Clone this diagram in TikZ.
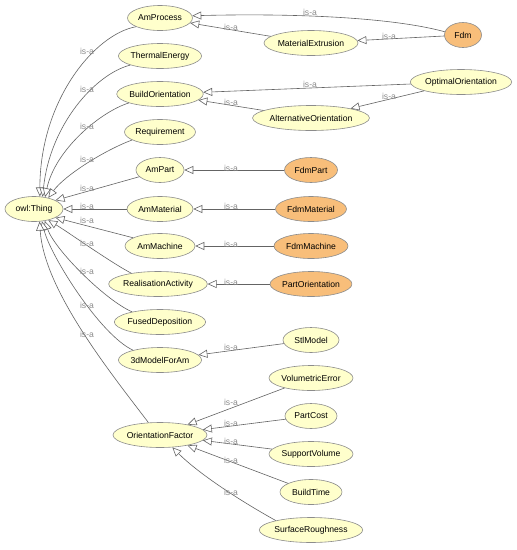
\documentclass[tikz,border=0pt]{standalone}
\usepackage{fontspec}
\setmainfont{Liberation Sans}
\usetikzlibrary{shapes.geometric,arrows.meta}
\definecolor{yfill}{RGB}{255,255,204}
\definecolor{ofill}{RGB}{248,190,122}
\definecolor{bord}{RGB}{140,140,140}
\definecolor{edgec}{RGB}{100,100,100}
\definecolor{lblc}{RGB}{140,140,140}
\begin{document}
\begin{tikzpicture}[x=1pt,y=-1pt,
  cls/.style={ellipse, draw=bord, line width=0.6pt, fill=yfill, inner sep=0pt, minimum height=25pt, font=\fontsize{8.6}{10}\selectfont},
  fdm/.style={cls, fill=ofill},
  isa/.style={draw=edgec, line width=0.6pt, -{Triangle[length=9pt,width=8pt,fill=white]}},
  lbl/.style={text=lblc, font=\fontsize{8.6}{10}\selectfont, inner sep=0pt}
]
\useasboundingbox (0,0) rectangle (517,550);
\fill[white] (0,0) rectangle (517,550);

% nodes
\node[cls, minimum width=58pt] (owl) at (34,209) {owl:Thing};
\node[cls, minimum width=65pt] (AmProcess) at (160,18) {AmProcess};
\node[cls, minimum width=83pt] (ThermalEnergy) at (160,56) {ThermalEnergy};
\node[cls, minimum width=86pt] (BuildOrientation) at (160,94) {BuildOrientation};
\node[cls, minimum width=71pt] (Requirement) at (160,132) {Requirement};
\node[cls, minimum width=48pt] (AmPart) at (160,170) {AmPart};
\node[cls, minimum width=66pt] (AmMaterial) at (160,209) {AmMaterial};
\node[cls, minimum width=70pt] (AmMachine) at (160,246) {AmMachine};
\node[cls, minimum width=93pt] (RealisationActivity) at (158,284) {RealisationActivity};
\node[cls, minimum width=86pt] (FusedDeposition) at (160,322) {FusedDeposition};
\node[cls, minimum width=82pt] (ModelForAm) at (160,360) {3dModelForAm};
\node[cls, minimum width=91pt] (OrientationFactor) at (160,435) {OrientationFactor};
\node[cls, minimum width=89pt] (MaterialExtrusion) at (311,43) {MaterialExtrusion};
\node[fdm, minimum width=37pt] (Fdm) at (463,35) {Fdm};
\node[cls, minimum width=95pt] (OptimalOrientation) at (461,82) {OptimalOrientation};
\node[cls, minimum width=112pt] (AlternativeOrientation) at (311,118) {AlternativeOrientation};
\node[fdm, minimum width=53pt] (FdmPart) at (311,170) {FdmPart};
\node[fdm, minimum width=71pt] (FdmMaterial) at (311,209) {FdmMaterial};
\node[fdm, minimum width=74pt] (FdmMachine) at (311,246) {FdmMachine};
\node[fdm, minimum width=80pt] (PartOrientation) at (311,284) {PartOrientation};
\node[cls, minimum width=56pt] (StlModel) at (311,340) {StlModel};
\node[cls, minimum width=84pt] (VolumetricError) at (311,378) {VolumetricError};
\node[cls, minimum width=52pt] (PartCost) at (311,416) {PartCost};
\node[cls, minimum width=84pt] (SupportVolume) at (311,454) {SupportVolume};
\node[cls, minimum width=62pt] (BuildTime) at (311,492) {BuildTime};
\node[cls, minimum width=95pt] (SurfaceRoughness) at (311,530) {SurfaceRoughness};

% edges to owl:Thing
\draw[isa] (AmProcess.200) .. controls (95,34) and (40,100) .. (owl.65);
\draw[isa] (ThermalEnergy.197) .. controls (95,74) and (50,125) .. (owl.55);
\draw[isa] (BuildOrientation.196) .. controls (100,112) and (55,150) .. (owl.47);
\draw[isa] (Requirement.196) .. controls (105,150) and (65,175) .. (owl.38);
\draw[isa] (AmPart.198) -- (owl.22);
\draw[isa] (AmMaterial) -- (owl);
\draw[isa] (AmMachine.163) -- (owl.-22);
\draw[isa] (RealisationActivity.158) .. controls (110,262) and (68,232) .. (owl.-38);
\draw[isa] (FusedDeposition.160) .. controls (105,300) and (55,250) .. (owl.-48);
\draw[isa] (ModelForAm.160) .. controls (100,335) and (50,255) .. (owl.-57);
\draw[isa] (OrientationFactor.133) .. controls (110,372) and (44,290) .. (owl.-66);

% other edges
\draw[isa] (Fdm.170) .. controls (395,18) and (300,13) .. (AmProcess.4);
\draw[isa] (MaterialExtrusion) -- (AmProcess);
\draw[isa] (Fdm) -- (MaterialExtrusion);
\draw[isa] (OptimalOrientation) -- (BuildOrientation);
\draw[isa] (OptimalOrientation) -- (AlternativeOrientation);
\draw[isa] (AlternativeOrientation) -- (BuildOrientation);
\draw[isa] (FdmPart) -- (AmPart);
\draw[isa] (FdmMaterial) -- (AmMaterial);
\draw[isa] (FdmMachine) -- (AmMachine);
\draw[isa] (PartOrientation) -- (RealisationActivity);
\draw[isa] (StlModel) -- (ModelForAm);
\draw[isa] (VolumetricError) -- (OrientationFactor);
\draw[isa] (PartCost) -- (OrientationFactor);
\draw[isa] (SupportVolume) -- (OrientationFactor);
\draw[isa] (BuildTime) -- (OrientationFactor);
\draw[isa] (SurfaceRoughness.165) .. controls (230,495) and (195,470) .. (OrientationFactor.-45);

% labels
\node[lbl] (l01) at (310,12) {is-a};
\node[lbl] (l02) at (231,27) {is-a};
\node[lbl] (l03) at (389,36) {is-a};
\node[lbl] (l04) at (310,84) {is-a};
\node[lbl] (l05) at (389,96) {is-a};
\node[lbl] (l06) at (231,102) {is-a};
\node[lbl] (l07) at (231,168) {is-a};
\node[lbl] (l08) at (231,206) {is-a};
\node[lbl] (l09) at (231,244) {is-a};
\node[lbl] (l10) at (231,282) {is-a};
\node[lbl] (l11) at (231,347) {is-a};
\node[lbl] (l12) at (231,402) {is-a};
\node[lbl] (l13) at (231,423) {is-a};
\node[lbl] (l14) at (231,441) {is-a};
\node[lbl] (l15) at (231,460) {is-a};
\node[lbl] (l16) at (231,492) {is-a};
\node[lbl] (l17) at (87,51) {is-a};
\node[lbl] (l18) at (87,89) {is-a};
\node[lbl] (l19) at (87,126) {is-a};
\node[lbl] (l20) at (87,159) {is-a};
\node[lbl] (l21) at (87,188) {is-a};
\node[lbl] (l22) at (87,206) {is-a};
\node[lbl] (l23) at (87,220) {is-a};
\node[lbl] (l24) at (87,243) {is-a};
\node[lbl] (l25) at (87,271) {is-a};
\node[lbl] (l26) at (87,305) {is-a};
\node[lbl] (l27) at (87,334) {is-a};
\end{tikzpicture}
\end{document}
